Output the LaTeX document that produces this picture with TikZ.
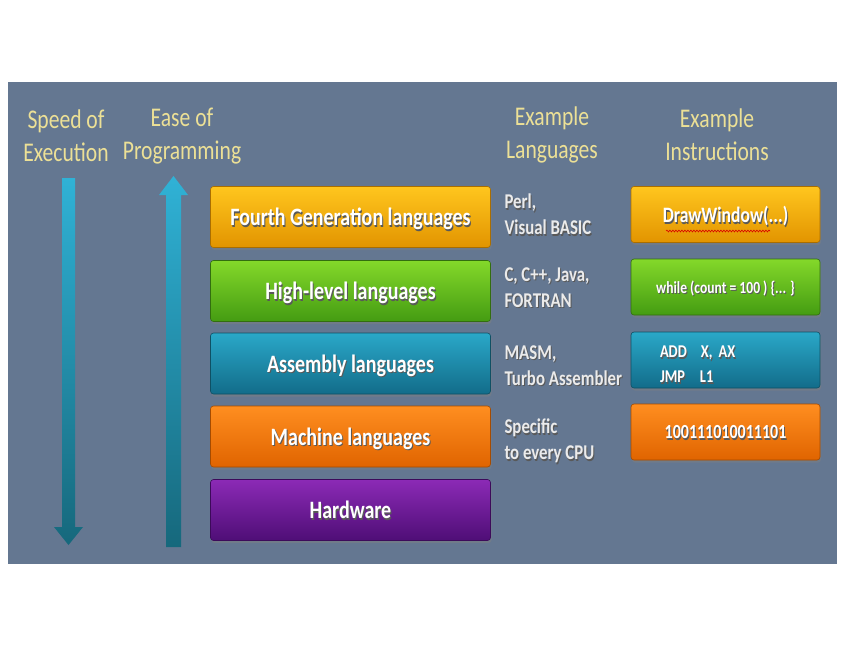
\documentclass[tikz,border=0pt]{standalone}
\usepackage{fontspec}
\setmainfont{Carlito}[FakeStretch=0.8]
\usetikzlibrary{shadows,decorations.pathmorphing}

\definecolor{panelbg}{RGB}{100,119,145}
\definecolor{headyellow}{RGB}{236,224,150}
\definecolor{arrowtop}{RGB}{48,178,214}
\definecolor{arrowbot}{RGB}{22,104,124}

\newcommand{\shd}[1]{\makebox[0pt][l]{\hspace{1pt}\raisebox{-1.5pt}{\textcolor{black!65}{#1}}}#1}

\begin{document}
\begin{tikzpicture}[x=1pt,y=-1pt,
		head/.style={text=headyellow,align=center,font=\fontsize{27}{33}\selectfont},
		langbox/.style={rounded corners=3pt,minimum width=280pt,minimum height=61pt,text=white,text depth=0pt,
			font=\bfseries\fontsize{25}{30}\selectfont,line width=0.6pt,
			drop shadow={shadow xshift=1pt,shadow yshift=-2.5pt,opacity=0.45}},
		insbox/.style={rounded corners=3pt,minimum width=189pt,minimum height=56pt,text=white,text depth=0pt,
			font=\bfseries\fontsize{20}{25}\selectfont,line width=0.6pt,
			drop shadow={shadow xshift=1pt,shadow yshift=-2.5pt,opacity=0.45}},
		exlang/.style={anchor=west,align=left,text=white!92!black,font=\bfseries\fontsize{21}{26}\selectfont},
		gold/.style={top color={rgb,255:red,255;green,198;blue,30},bottom color={rgb,255:red,226;green,148;blue,0},draw={rgb,255:red,170;green,110;blue,0}},
		leaf/.style={top color={rgb,255:red,132;green,216;blue,42},bottom color={rgb,255:red,68;green,156;blue,18},draw={rgb,255:red,50;green,110;blue,15}},
		sea/.style={top color={rgb,255:red,42;green,168;blue,200},bottom color={rgb,255:red,18;green,108;blue,138},draw={rgb,255:red,15;green,80;blue,100}},
		tangerine/.style={top color={rgb,255:red,255;green,142;blue,32},bottom color={rgb,255:red,224;green,100;blue,0},draw={rgb,255:red,165;green,75;blue,0}},
		grape/.style={top color={rgb,255:red,140;green,42;blue,182},bottom color={rgb,255:red,78;green,14;blue,118},draw={rgb,255:red,60;green,10;blue,90}}]
	\useasboundingbox (0,0) rectangle (846,649);
	\fill[white] (0,0) rectangle (846,649);
	\fill[panelbg] (8,82) rectangle (837,564);
	%\clip (8,82) rectangle (837,564);
	\node[head] (speed) at (66,136) {Speed of\\Execution};
	\node[head] (ease) at (182,136) {Ease of\\Programming};
	\node[head] (exlanghead) at (552,135) {Example\\Languages};
	\node[head] (exinshead) at (717,135) {Example\\Instructions};
	\shade[top color=arrowtop,bottom color=arrowbot] (62,178) -- (75,178) -- (75,527) -- (83,527) -- (68.5,545) -- (54,527) -- (62,527) -- cycle;
	\shade[top color=arrowtop,bottom color=arrowbot] (166,547) -- (181,547) -- (181,195) -- (188,195) -- (173.5,176) -- (159,195) -- (166,195) -- cycle;
	\node[langbox,gold] (fourth) at (350.5,217) {\shd{Fourth Generation languages}};
	\node[langbox,leaf] (high) at (350.5,291) {\shd{High-level languages}};
	\node[langbox,sea] (assembly) at (350.5,363.5) {\shd{Assembly languages}};
	\node[langbox,tangerine] (machine) at (350.5,436.5) {\shd{Machine languages}};
	\node[langbox,grape] (hardware) at (350.5,510) {\shd{Hardware}};
	\node[exlang] (perl) at (501,215) {\shd{Perl,}\\\shd{Visual BASIC}};
	\node[exlang] (cjava) at (501,288) {\shd{C, C++, Java,}\\\shd{FORTRAN}};
	\node[exlang] (masm) at (501,366) {\shd{MASM,}\\\shd{Turbo Assembler}};
	\node[exlang] (cpu) at (501,442) {\shd{Specific}\\\shd{to every CPU}};
	\node[insbox,gold,font=\bfseries\fontsize{22}{26}\selectfont] (drawwin) at (725.5,214.5) {\shd{DrawWindow(...)}};
	\node[insbox,leaf,font=\bfseries\fontsize{17}{22}\selectfont] (whileloop) at (725.5,287) {\shd{while (count = 100 ) \{... \}}};
	\node[insbox,sea,font=\bfseries\fontsize{18}{25}\selectfont,text depth=16pt,inner xsep=29pt,text width=131pt,align=left] (addjmp) at (725.5,360)
		{\shd{\makebox[41pt][l]{ADD}X, AX}\\\shd{\makebox[40pt][l]{JMP}L1}};
	\node[insbox,tangerine] (binary) at (725.5,432) {\shd{100111010011101}};
	\draw[red!85!black,line width=0.6pt,decorate,decoration={snake,amplitude=0.9pt,segment length=3pt}] (666,231) -- (770,231);
\end{tikzpicture}
\end{document}
